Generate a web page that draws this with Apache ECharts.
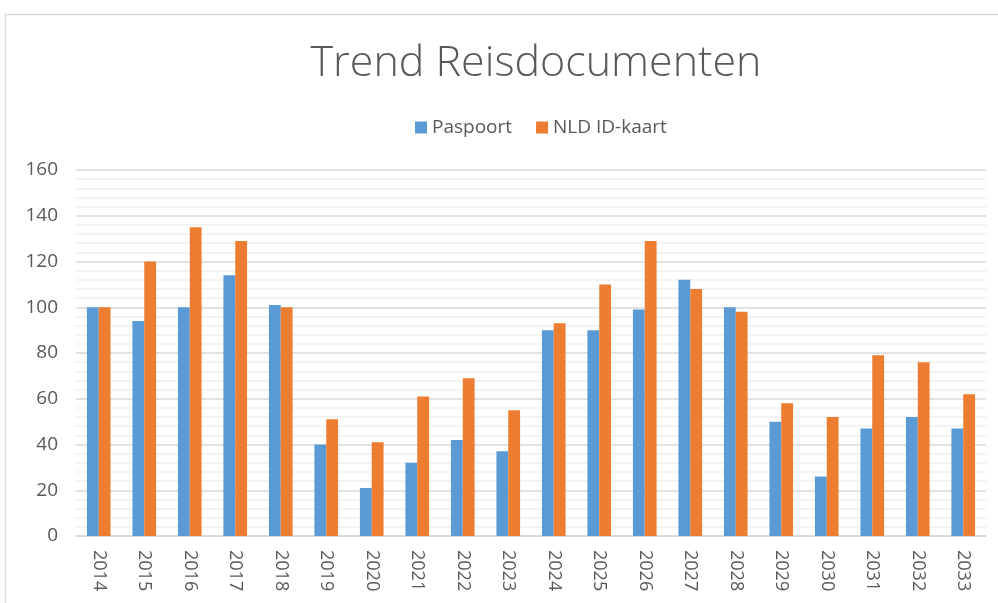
<!DOCTYPE html>
<html>
<head>
<meta charset="utf-8">
<script src="https://cdn.jsdelivr.net/npm/echarts@6/dist/echarts.min.js"></script>
<style>
  html, body { margin: 0; padding: 0; background: #fff; }
  #chart { width: 998px; height: 603px; }
</style>
</head>
<body>
<div id="chart"></div>
<script>
/* ================================
   DATA
================================ */
const years = ["2014", "2015", "2016", "2017", "2018", "2019", "2020", "2021", "2022", "2023",
               "2024", "2025", "2026", "2027", "2028", "2029", "2030", "2031", "2032", "2033"];
const paspoort = [100, 94, 100, 114, 101, 40, 21, 32, 42, 37, 90, 90, 99, 112, 100, 50, 26, 47, 52, 47];
const idKaart  = [100, 120, 135, 129, 100, 51, 41, 61, 69, 55, 93, 110, 129, 108, 98, 58, 52, 79, 76, 62];
const seriesNames = ["Paspoort", "NLD ID-kaart"];

const textColor = "#595959";
const font = "'Open Sans', 'Noto Sans', sans-serif";

/* ================================
   CHART
================================ */
const chart = echarts.init(document.getElementById("chart"));

chart.setOption({
  animation: false,
  title: {
    text: "Trend Reisdocumenten",
    left: 531,
    textAlign: "center",
    top: 37,
    textStyle: { color: textColor, fontSize: 43, fontWeight: 300, fontFamily: font }
  },
  legend: {
    data: seriesNames,
    top: 113,
    left: 410,
    itemWidth: 12,
    itemHeight: 12,
    itemGap: 24,
    icon: "rect",
    textStyle: { color: textColor, fontSize: 19, fontFamily: font }
  },
  graphic: [{
    type: "rect",
    shape: { x: 5.5, y: 14.5, width: 1000, height: 600 },
    style: { fill: "none", stroke: "#D9D9D9", lineWidth: 1.5 },
    silent: true
  }],
  grid: { left: 76, right: 12, top: 170, bottom: 67 },
  xAxis: {
    type: "category",
    data: years,
    axisLine: { lineStyle: { color: "#D9D9D9", width: 1.5 } },
    axisTick: { show: false },
    axisLabel: {
      rotate: -90,
      color: textColor,
      fontSize: 18,
      fontFamily: font,
      margin: 14
    }
  },
  yAxis: {
    type: "value",
    min: 0,
    max: 160,
    interval: 20,
    axisLine: { show: false },
    axisTick: { show: false },
    axisLabel: { color: textColor, fontSize: 19, fontFamily: font, margin: 18 },
    splitLine: { lineStyle: { color: "#D9D9D9", width: 1.5 } },
    minorTick: { show: false, splitNumber: 5 },
    minorSplitLine: { show: true, lineStyle: { color: "#EFEFEF", width: 1.5 } }
  },
  series: [
    {
      name: seriesNames[0],
      type: "bar",
      data: paspoort,
      barGap: "0%",
      barCategoryGap: "48%",
      itemStyle: { color: "#5B9BD5" }
    },
    {
      name: seriesNames[1],
      type: "bar",
      data: idKaart,
      itemStyle: { color: "#ED7D31" }
    }
  ]
});
</script>
</body>
</html>
